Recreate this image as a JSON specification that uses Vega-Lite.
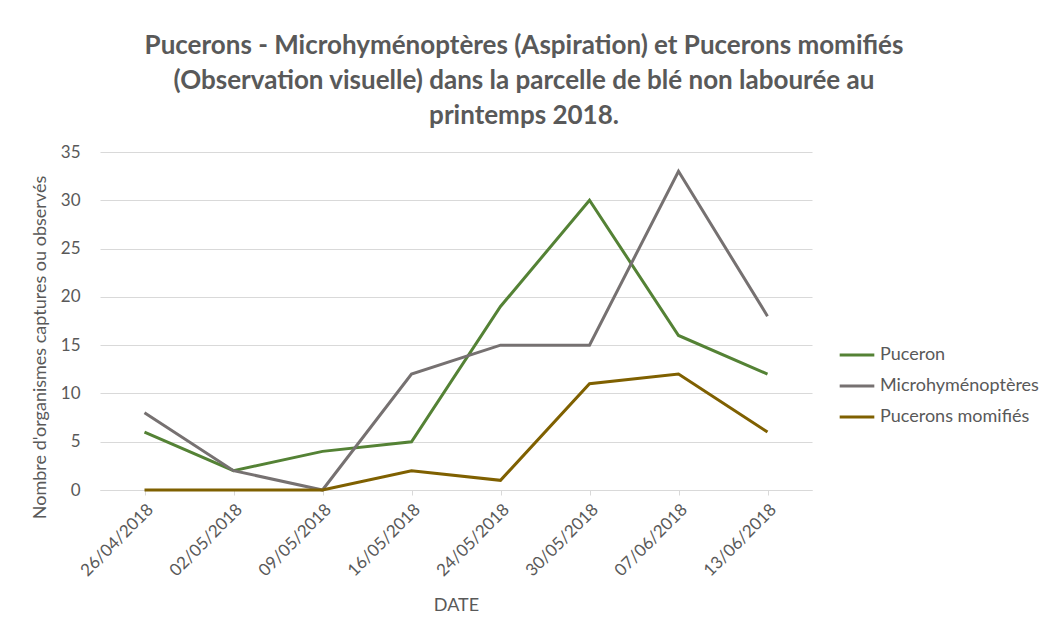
{
  "$schema": "https://vega.github.io/schema/vega-lite/v6.json",
  "width": 712,
  "height": 338,
  "autosize": {"type": "none"},
  "padding": {"left": 100, "top": 152, "right": 236, "bottom": 144},
  "background": "white",
  "config": {
    "font": "Lato",
    "view": {"stroke": null},
    "axis": {"labelFont": "Lato", "titleFont": "Lato", "labelColor": "#595959", "titleColor": "#595959", "gridColor": "#d9d9d9", "domainColor": "#d9d9d9", "tickColor": "#d9d9d9"}
  },
  "title": {
    "text": ["Pucerons - Microhyménoptères (Aspiration) et Pucerons momifiés", "(Observation visuelle) dans la parcelle de blé non labourée au", "printemps 2018."],
    "font": "Lato",
    "fontSize": 26,
    "fontWeight": "bold",
    "color": "#595959",
    "lineHeight": 35,
    "anchor": "middle",
    "dx": 68,
    "offset": 14
  },
  "data": {
    "values": [
      {"date": "26/04/2018", "serie": "Puceron", "n": 6},
      {"date": "02/05/2018", "serie": "Puceron", "n": 2},
      {"date": "09/05/2018", "serie": "Puceron", "n": 4},
      {"date": "16/05/2018", "serie": "Puceron", "n": 5},
      {"date": "24/05/2018", "serie": "Puceron", "n": 19},
      {"date": "30/05/2018", "serie": "Puceron", "n": 30},
      {"date": "07/06/2018", "serie": "Puceron", "n": 16},
      {"date": "13/06/2018", "serie": "Puceron", "n": 12},
      {"date": "26/04/2018", "serie": "Microhyménoptères", "n": 8},
      {"date": "02/05/2018", "serie": "Microhyménoptères", "n": 2},
      {"date": "09/05/2018", "serie": "Microhyménoptères", "n": 0},
      {"date": "16/05/2018", "serie": "Microhyménoptères", "n": 12},
      {"date": "24/05/2018", "serie": "Microhyménoptères", "n": 15},
      {"date": "30/05/2018", "serie": "Microhyménoptères", "n": 15},
      {"date": "07/06/2018", "serie": "Microhyménoptères", "n": 33},
      {"date": "13/06/2018", "serie": "Microhyménoptères", "n": 18},
      {"date": "26/04/2018", "serie": "Pucerons momifiés", "n": 0},
      {"date": "02/05/2018", "serie": "Pucerons momifiés", "n": 0},
      {"date": "09/05/2018", "serie": "Pucerons momifiés", "n": 0},
      {"date": "16/05/2018", "serie": "Pucerons momifiés", "n": 2},
      {"date": "24/05/2018", "serie": "Pucerons momifiés", "n": 1},
      {"date": "30/05/2018", "serie": "Pucerons momifiés", "n": 11},
      {"date": "07/06/2018", "serie": "Pucerons momifiés", "n": 12},
      {"date": "13/06/2018", "serie": "Pucerons momifiés", "n": 6}
    ]
  },
  "mark": {"type": "line", "strokeWidth": 3, "strokeJoin": "miter"},
  "encoding": {
    "x": {
      "field": "date",
      "type": "ordinal",
      "sort": null,
      "scale": {"type": "point", "padding": 0.5},
      "axis": {"title": "DATE", "titleFontSize": 18, "titleFontWeight": "normal", "labelAngle": -45, "labelFontSize": 17, "labelPadding": 6, "tickSize": 5, "grid": false, "titlePadding": 18}
    },
    "y": {
      "field": "n",
      "type": "quantitative",
      "scale": {"domain": [0, 35]},
      "axis": {"title": "Nombre d'organismes captures ou observés", "titleFontSize": 18, "titleFontWeight": "normal", "labelFontSize": 17, "values": [0, 5, 10, 15, 20, 25, 30, 35], "domain": false, "ticks": false, "labelPadding": 20, "titleX": -55, "titleY": 195, "titleAngle": -90, "titleBaseline": "alphabetic"}
    },
    "color": {
      "field": "serie",
      "type": "nominal",
      "scale": {"domain": ["Puceron", "Microhyménoptères", "Pucerons momifiés"], "range": ["#548235", "#767171", "#7f6000"]},
      "legend": {"title": null, "orient": "none", "legendX": 738, "legendY": 184, "symbolType": "stroke", "symbolSize": 1200, "symbolStrokeWidth": 3, "labelFontSize": 18, "labelColor": "#595959", "labelFont": "Lato", "rowPadding": 3, "labelOffset": 4}
    }
  }
}
